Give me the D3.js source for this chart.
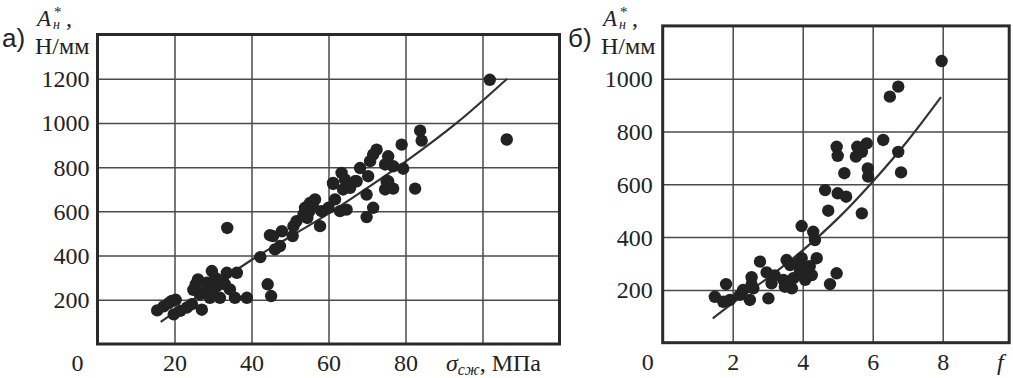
<!DOCTYPE html>
<html><head><meta charset="utf-8">
<script src="https://cdn.jsdelivr.net/npm/d3@7"></script>
<style>
body{margin:0;background:#fff;}
svg{display:block;}
text{fill:#222;}
.serif{font-family:"Liberation Serif","Times New Roman","DejaVu Serif","Noto Serif",serif;}
.sans{font-family:"Liberation Sans",Arial,"DejaVu Sans",sans-serif;}
</style></head>
<body>
<svg id="c" width="1013" height="378"></svg>
<script>
// ---- Panel а): A*н vs σсж ----
const leftSigma = [15.5,17.2,18.5,19.3,20.3,19.8,21.5,23.2,24.5,24.9,26.1,26.6,27.1,28.4,29.2,29.7,30.5,31,31.8,33.1,33.6,34.4,35.7,36.2,38.8,33.7,25.5,28,30,32.5,
  42.3,44.8,45.6,46.1,47.4,47.9,50.7,50.9,51.7,53.5,53.9,55.2,56.5,55,57.8,58.2,60,61.2,61.7,63,64.7,63.4,64.3,63.8,65.6,67.3,54.5,56,44.2,45.1,
  68.2,70.8,71.6,72.5,70.3,69.9,71.6,69.9,74.7,75.5,76.8,79.4,75.5,74.7,76.8,79,83.8,84.2,82.5,101.9,106.3,66.9,75.1,61.2];
const leftA = [152,170,185,195,200,134,150,165,180,245,292,225,155,277,209,330,300,262,209,270,322,247,209,322,209,525,270,240,225,290,
  393,492,488,428,443,510,488,533,556,586,616,638,654,600,533,601,616,729,654,601,608,774,744,699,706,736,570,620,270,217,
  796,827,857,879,759,676,616,574,812,849,804,793,736,699,703,902,965,920,703,1195,925,736,736,724];
const leftCurveX = [16.4,29.7,40,50,60,70,80,93.3,106.4];
const leftCurveY = [100,259,380,485,590,705,825,1000,1200];
const leftXGrid = [20,40,60,80,100];
const leftXTicks = [20,40,60,80];
const leftYTicks = [200,400,600,800,1000,1200];

// ---- Panel б): A*н vs f ----
const rightF = [1.49,1.81,1.73,1.92,2.21,2.3,2.54,2.49,2.59,2.78,2.97,3.02,3.11,3.45,3.54,3.64,3.49,3.69,3.73,3.97,3.97,3.92,4.11,4.07,4.26,4.3,4.35,4.4,4.73,4.78,4.97,
  4.64,4.97,5.0,5.0,5.24,5.19,5.52,5.56,5.69,5.83,5.69,5.86,5.87,6.3,6.49,6.73,6.73,6.81,7.97,2.54,3.2,3.85,4.2];
const rightA = [174,222,155,162,181,200,248,162,206,307,266,168,225,238,313,294,212,206,244,442,320,269,282,238,256,420,389,320,500,222,263,
  578,742,708,566,553,642,705,742,723,755,490,660,629,768,932,970,723,645,1067,220,255,300,290];
const rightCurveX = [1.43,2,3,4,5,6,7,7.95];
const rightCurveY = [92,150,245,350,470,610,765,930];
const rightXGrid = [2,4,6,8];
const rightXTicks = [2,4,6,8];
const rightYTicks = [200,400,600,800,1000];

const svg = d3.select("#c");

function panel(cfg){
  const x = d3.scaleLinear().domain(cfg.xDomain).range(cfg.xRange);
  const y = d3.scaleLinear().domain(cfg.yDomain).range(cfg.yRange);
  const g = svg.append("g");
  const [x0,x1] = cfg.xRange, [y0,y1] = cfg.yRange;
  // vertical grid
  const gg = g.append("g").attr("transform",`translate(0,${y0})`)
    .call(d3.axisBottom(x).tickValues(cfg.xGrid).tickSize(-(y0-y1)).tickFormat(""));
  // x labels
  const gx = g.append("g").attr("transform",`translate(0,${y0})`)
    .call(d3.axisBottom(x).tickValues(cfg.xTicks).tickSize(0).tickPadding(10).tickFormat(d3.format("d")));
  // horizontal grid + y labels
  const gy = g.append("g").attr("transform",`translate(${x0},0)`)
    .call(d3.axisLeft(y).tickValues(cfg.yTicks).tickSize(-(x1-x0)).tickPadding(cfg.yPad).tickFormat(d3.format("d")));
  [gg,gx,gy].forEach(a=>{
    a.attr("font-family",null).attr("font-size",null);
    a.select(".domain").remove();
    a.selectAll(".tick line").attr("stroke","#4a4a4a").attr("stroke-width",1.5);
    a.selectAll(".tick text").attr("class","serif").attr("font-size",24).attr("fill","#222");
  });
  gx.selectAll(".tick line").remove();
  gy.selectAll(".tick text").attr("dy","0.33em");
  gx.selectAll(".tick text").attr("dy","0.71em");
  // frame
  g.append("rect").attr("x",x0).attr("y",y1).attr("width",x1-x0).attr("height",y0-y1)
    .attr("fill","none").attr("stroke","#2a2a2a").attr("stroke-width",3);
  // origin label
  g.append("text").attr("class","serif").attr("x",x(0)-cfg.zeroOff).attr("y",y0+27).attr("text-anchor","middle")
    .attr("font-size",24).text("0");
  // curve
  const line = d3.line().x(d=>x(d[0])).y(d=>y(d[1])).curve(d3.curveMonotoneX);
  g.append("path").datum(d3.zip(cfg.cx,cfg.cy)).attr("d",line)
    .attr("fill","none").attr("stroke","#333").attr("stroke-width",2.2);
  // dots
  g.selectAll("circle.pt").data(d3.zip(cfg.px,cfg.py)).join("circle").attr("class","pt")
    .attr("cx",d=>x(d[0])).attr("cy",d=>y(d[1])).attr("r",6.2).attr("fill","#222");
  // header labels
  const hx = cfg.hx;
  g.append("text").attr("class","sans").attr("x",hx+2).attr("y",47).attr("font-size",26).text(cfg.tag);
  g.append("text").attr("class","serif").attr("x",hx+37).attr("y",26).attr("font-style","italic").attr("font-size",23).text("A");
  g.append("text").attr("class","serif").attr("x",hx+53).attr("y",29).attr("font-style","italic").attr("font-size",14).text("н");
  g.append("text").attr("class","serif").attr("x",hx+54).attr("y",17).attr("font-size",15).text("*");
  g.append("text").attr("class","serif").attr("x",hx+66).attr("y",26).attr("font-size",24).text(",");
  g.append("text").attr("class","serif").attr("x",hx+35).attr("y",54).attr("font-size",24).text("Н/мм");
  return {x,y,g};
}

const L = panel({xDomain:[0,120], xRange:[97.5,559.5], yDomain:[0,1400], yRange:[344,34.5],
  xGrid:leftXGrid, xTicks:leftXTicks, yTicks:leftYTicks, yPad:8, zeroOff:20, cx:leftCurveX, cy:leftCurveY,
  px:leftSigma, py:leftA, hx:0, tag:"а)"});
const R = panel({xDomain:[0,9.9], xRange:[662.7,1009.2], yDomain:[0,1200], yRange:[342.7,25.9],
  xGrid:rightXGrid, xTicks:rightXTicks, yTicks:rightYTicks, yPad:10, zeroOff:15, cx:rightCurveX, cy:rightCurveY,
  px:rightF, py:rightA, hx:566, tag:"б)"});

// axis titles
const t1 = L.g.append("text").attr("class","serif").attr("x",446).attr("y",371).attr("font-size",24);
t1.append("tspan").attr("font-style","italic").text("σ");
t1.append("tspan").attr("font-style","italic").attr("font-size",16).attr("dy",4).text("сж");
t1.append("tspan").attr("dy",-4).text(", МПа");
R.g.append("text").attr("class","serif").attr("x",997).attr("y",370).attr("font-style","italic").attr("font-size",24).text("f");
</script>
</body></html>
